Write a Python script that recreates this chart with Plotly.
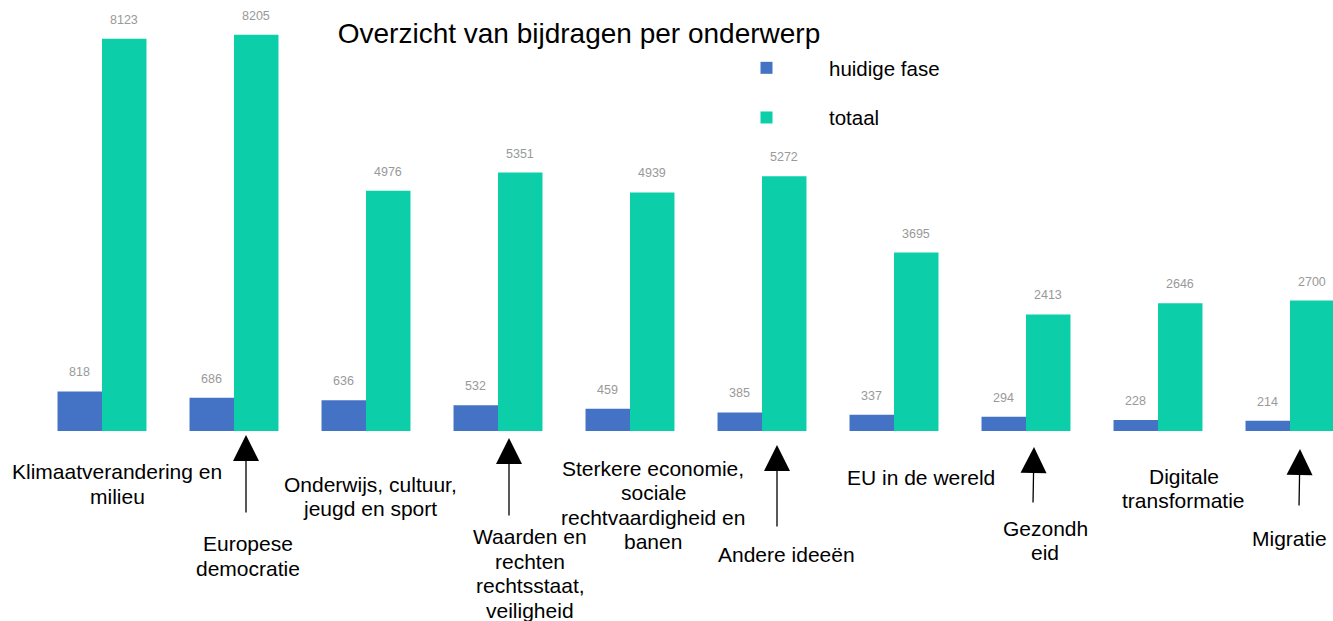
import plotly.graph_objects as go

# ---- data ----
categories = [
    "Klimaatverandering en milieu",
    "Europese democratie",
    "Onderwijs, cultuur, jeugd en sport",
    "Waarden en rechten rechtsstaat, veiligheid",
    "Sterkere economie, sociale rechtvaardigheid en banen",
    "Andere ideeën",
    "EU in de wereld",
    "Gezondheid",
    "Digitale transformatie",
    "Migratie",
]
label_lines = [
    "Klimaatverandering en<br>milieu",
    "Europese<br>democratie",
    "Onderwijs, cultuur,<br>jeugd en sport",
    "Waarden en<br>rechten<br>rechtsstaat,<br>veiligheid",
    "Sterkere economie,<br>sociale<br>rechtvaardigheid en<br>banen",
    "Andere ideeën",
    "EU in de wereld",
    "Gezondh<br>eid",
    "Digitale<br>transformatie",
    "Migratie",
]
huidige_fase = [818, 686, 636, 532, 459, 385, 337, 294, 228, 214]
totaal = [8123, 8205, 4976, 5351, 4939, 5272, 3695, 2413, 2646, 2700]

# ---- layout / style settings ----
BLUE = "#4472c4"
GREEN = "#0ccfa9"
FONT = "Liberation Sans, Arial, sans-serif"
BARGAP = 0.326
BASE_PX = 431  # pixel row of the baseline (plot bottom)
LINE_PX = 24.5  # line spacing of category labels

# label placement (pixel offsets from category centre / pixel row of block centre)
label_xshift = [15, 14, 4, 32, 23, 24.5, 27, 19, 25.5, -0.5]
label_ypx = [484, 556, 496.5, 573.5, 505, 554, 477, 540.5, 488.5, 538]
# arrows: category index, xshift, tip row, tail dx, tail row
arrows = [
    (1, 12, 435, 0, 514),
    (3, 11, 438, 0, 517),
    (5, 15, 445, 0, 528),
    (7, 8, 447, -1, 504),
    (9, 10, 449, -1, 507),
]

fig = go.Figure()
fig.add_trace(go.Bar(name="huidige fase", x=categories, y=huidige_fase,
                     marker=dict(color=BLUE, line=dict(width=0)),
                     legendgroup="a", hoverinfo="x+y"))
fig.add_trace(go.Bar(name="totaal", x=categories, y=totaal,
                     marker=dict(color=GREEN, line=dict(width=0)),
                     legendgroup="b", hoverinfo="x+y"))

half = (1 - BARGAP) / 4  # offset of each bar centre from category centre
annotations = []
for i, (h, t) in enumerate(zip(huidige_fase, totaal)):
    for val, dx in ((h, -half), (t, half)):
        annotations.append(dict(
            x=i + dx, y=val, xref="x", yref="y", text=str(val), showarrow=False,
            yshift=19, yanchor="middle", xanchor="center",
            font=dict(family=FONT, size=12.5, color="#999999")))

for i, lab in enumerate(label_lines):
    parts = lab.split("<br>")
    n = len(parts)
    for k, part in enumerate(parts):
        cy = label_ypx[i] + (k - (n - 1) / 2) * LINE_PX
        annotations.append(dict(
            x=i, y=0, xref="x", yref="y", text=part, showarrow=False,
            xshift=label_xshift[i], yshift=BASE_PX - cy,
            xanchor="center", yanchor="middle", align="center",
            font=dict(family=FONT, size=21, color="#000000")))

for (i, xs, tip, tdx, tail) in arrows:
    annotations.append(dict(
        x=i, y=0, xref="x", yref="y", text="", showarrow=True,
        xshift=xs, yshift=BASE_PX - tip, ax=tdx, ay=tail - tip,
        arrowhead=2, arrowsize=4, arrowwidth=1.3, arrowcolor="#000000",
        standoff=0))

fig.update_layout(
    width=1333, height=621,
    margin=dict(l=36, r=0, t=0, b=621 - BASE_PX, pad=0),
    paper_bgcolor="white", plot_bgcolor="white",
    barmode="group", bargap=BARGAP, bargroupgap=0,
    title=dict(text="Overzicht van bijdragen per onderwerp",
               x=579 / 1333, xanchor="center", xref="container",
               y=1 - 33 / 621, yanchor="middle", yref="container",
               font=dict(family=FONT, size=28, color="#000000")),
    xaxis=dict(range=[-0.5, -0.5 + 1297 / 132], showticklabels=False,
               showgrid=False, zeroline=False, showline=False, ticks=""),
    yaxis=dict(range=[0, BASE_PX / 0.0483], visible=False, showgrid=False,
               zeroline=False),
    showlegend=True,
    legend=dict(x=(704 - 36) / 1297, xanchor="left",
                y=1 - 48 / BASE_PX, yanchor="top",
                font=dict(family=FONT, size=20.5, color="#000000"),
                itemwidth=115, tracegroupgap=20, bgcolor="rgba(0,0,0,0)",
                traceorder="grouped"),
    annotations=annotations,
    font=dict(family=FONT),
)

fig.write_html("out.html",
               config={"displayModeBar": False},
               post_script="document.body.style.margin='0';"
                           "document.body.style.overflow='hidden';")
